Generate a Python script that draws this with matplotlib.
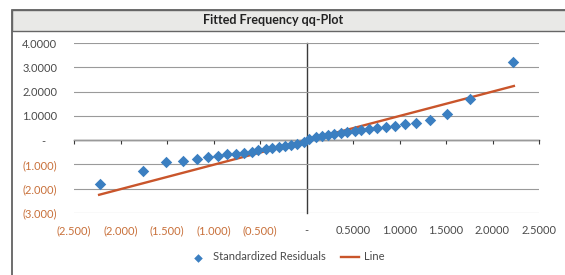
import matplotlib
matplotlib.use("Agg")
import matplotlib.pyplot as plt
from matplotlib.patches import Rectangle
from matplotlib.ticker import FixedLocator

plt.rcParams["font.family"] = ["Lato", "DejaVu Sans"]

# theoretical normal quantiles (x) and standardized residuals (y)
quantiles = [-2.22, -1.76, -1.51, -1.33, -1.18, -1.06, -0.95, -0.85, -0.76, -0.67,
             -0.59, -0.52, -0.44, -0.37, -0.30, -0.23, -0.17, -0.10, -0.03,
             0.03, 0.10, 0.17, 0.23, 0.30, 0.37, 0.44, 0.52, 0.59, 0.67,
             0.76, 0.85, 0.95, 1.06, 1.18, 1.33, 1.51, 1.76, 2.22]
residuals = [-1.82, -1.27, -0.89, -0.85, -0.78, -0.71, -0.64, -0.59, -0.55, -0.51,
             -0.47, -0.42, -0.38, -0.33, -0.28, -0.24, -0.19, -0.14, -0.06,
             0.05, 0.12, 0.17, 0.21, 0.26, 0.30, 0.34, 0.38, 0.42, 0.46,
             0.50, 0.55, 0.59, 0.66, 0.72, 0.82, 1.07, 1.68, 3.21]
line_x = [-2.23, 2.23]
line_y = [-2.25, 2.23]

x_ticks = [-2.5, -2.0, -1.5, -1.0, -0.5, 0.0, 0.5, 1.0, 1.5, 2.0, 2.5]
x_labels = ["(2.500)", "(2.000)", "(1.500)", "(1.000)", "(0.500)", "-",
            "0.5000", "1.0000", "1.5000", "2.0000", "2.5000"]
y_ticks = [-3, -2, -1, 0, 1, 2, 3, 4]
y_labels = ["(3.000)", "(2.000)", "(1.000)", "-    ",
            "1.0000", "2.0000", "3.0000", "4.0000"]

BLUE = "#3B7FC1"
ORANGE = "#C9552B"
NEG = "#C8703A"
TEXT = "#4A4A4A"

fig = plt.figure(figsize=(5.65, 2.75), dpi=100)
W, H = 565, 275

# chart frame and title band (behind the axes)
fig.patches.append(Rectangle((12 / W, -0.05), 1.0, 1 - 10 / H + 0.05, transform=fig.transFigure,
                             facecolor="white", edgecolor="#555555", linewidth=1.2, zorder=-2))
fig.patches.append(Rectangle((12 / W, 1 - 31 / H), 1.0, 21 / H, transform=fig.transFigure,
                             facecolor="#E9E9E7", edgecolor="#666666", linewidth=1.0, zorder=-1))
fig.text(273 / W, 1 - 20.5 / H, "Fitted Frequency qq-Plot", ha="center", va="center",
         fontsize=9, fontweight="bold", color="#222222")

ax = fig.add_axes([74 / W, 1 - 213 / H, (539 - 74) / W, (213 - 43) / H])
ax.set_facecolor("none")
ax.set_xlim(-2.5, 2.5)
ax.set_ylim(-3, 4)

ax.scatter(quantiles, residuals, marker="D", s=34, color=BLUE, zorder=4,
           label="Standardized Residuals", linewidths=0)
ax.plot(line_x, line_y, color=ORANGE, linewidth=1.7, zorder=3, label="Line")

ax.xaxis.set_major_locator(FixedLocator(x_ticks))
ax.yaxis.set_major_locator(FixedLocator(y_ticks))
ax.set_xticklabels(x_labels)
ax.set_yticklabels(y_labels)
ax.tick_params(length=0, labelsize=8, colors=TEXT)
ax.tick_params(axis="y", pad=12)
ax.tick_params(axis="x", pad=9)
for lab, v in zip(ax.get_xticklabels(), x_ticks):
    if v < 0:
        lab.set_color(NEG)
for lab, v in zip(ax.get_yticklabels(), y_ticks):
    if v < 0:
        lab.set_color(NEG)

for s in ax.spines.values():
    s.set_visible(False)
ax.grid(axis="y", color="#9A9A9A", linewidth=0.8)
ax.grid(axis="x", visible=False)

# axes crossing at zero
xsec = ax.secondary_xaxis(0.0, transform=ax.transData)
xsec.spines["bottom"].set_color("#3A3A3A")
xsec.spines["bottom"].set_linewidth(1.0)
xsec.xaxis.set_major_locator(FixedLocator(x_ticks))
xsec.tick_params(length=3, width=0.8, color="#3A3A3A", labelbottom=False)
ysec = ax.secondary_yaxis(0.0, transform=ax.transData)
ysec.spines["left"].set_color("#3A3A3A")
ysec.spines["left"].set_linewidth(1.0)
ysec.yaxis.set_major_locator(FixedLocator(y_ticks))
ysec.tick_params(length=0, labelleft=False)

handles, labels = ax.get_legend_handles_labels()
fig.legend(handles, labels, loc="center", bbox_to_anchor=(287 / W, 1 - 257 / H), ncol=2,
           frameon=False, fontsize=8, handlelength=1.6, handletextpad=0.5,
           columnspacing=1.4, markerscale=0.75, labelcolor=TEXT)

fig.savefig("out.png", dpi=100)
